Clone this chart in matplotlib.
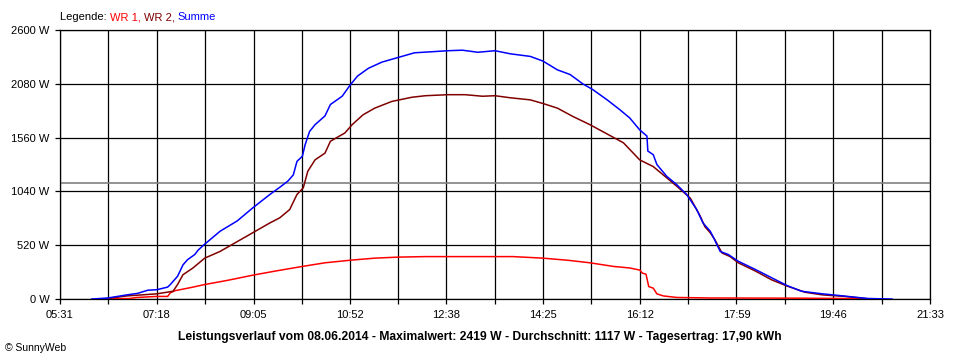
import matplotlib.pyplot as plt
from matplotlib.ticker import FixedLocator

plt.rcParams['font.family'] = ['Liberation Sans', 'DejaVu Sans']

# x axis labels (every second grid line) and y axis ticks
tick_labels = ['05:31', '07:18', '09:05', '10:52', '12:38',
               '14:25', '16:12', '17:59', '19:46', '21:33']
y_ticks = [0, 520, 1040, 1560, 2080, 2600]

# WR 1
t_wr1 = ['06:19', '06:48', '06:56', '07:18', '07:30', '07:33', '07:38', '07:58',
         '08:11', '08:36', '09:04', '09:29', '09:59', '10:24', '10:52', '11:19',
         '11:45', '12:15', '12:40', '13:32', '13:52', '14:25', '14:52', '15:17',
         '15:43', '16:01', '16:12', '16:15', '16:19', '16:22', '16:27', '16:31',
         '16:38', '16:53', '17:30', '19:11', '20:38', '20:42']
wr1 = [0, 5, 15, 25, 25, 60, 80, 115,
       140, 180, 230, 270, 315, 350, 375, 395,
       405, 410, 410, 410, 410, 395, 375, 350,
       315, 300, 280, 250, 240, 120, 105, 50,
       30, 15, 10, 8, 2, 0]

# WR 2
t_wr2 = ['06:19', '06:45', '07:18', '07:36', '07:41', '07:47', '07:58', '08:11',
         '08:28', '08:47', '09:04', '09:23', '09:34', '09:45', '09:53', '10:00',
         '10:05', '10:13', '10:24', '10:30', '10:46', '10:54', '11:06', '11:19',
         '11:38', '12:00', '12:15', '12:40', '12:59', '13:18', '13:32', '13:49',
         '14:11', '14:25', '14:41', '14:58', '15:17', '15:36', '15:54', '16:12',
         '16:27', '16:38', '16:53', '17:08', '17:19', '17:24', '17:30', '17:35',
         '17:43', '17:52', '18:01', '18:20', '18:38', '18:55', '19:15', '19:34',
         '19:59', '20:21', '20:29']
wr2 = [0, 30, 50, 75, 140, 235, 300, 395,
       460, 555, 640, 735, 785, 865, 1010, 1075,
       1235, 1345, 1410, 1525, 1605, 1685, 1780, 1845,
       1910, 1950, 1965, 1975, 1975, 1960, 1965, 1945,
       1925, 1890, 1845, 1765, 1685, 1595, 1510, 1345,
       1280, 1200, 1090, 975, 800, 700, 640, 575,
       445, 410, 350, 270, 185, 125, 65, 40,
       25, 5, 0]

# Summe
t_sum = ['06:06', '06:24', '06:45', '06:57', '07:08', '07:18', '07:30', '07:33',
         '07:41', '07:47', '07:52', '08:00', '08:04', '08:11', '08:28', '08:47',
         '09:04', '09:23', '09:34', '09:43', '09:49', '09:53', '09:59', '10:02',
         '10:07', '10:13', '10:24', '10:30', '10:43', '10:52', '11:00', '11:12',
         '11:27', '11:45', '12:03', '12:22', '12:40', '12:56', '13:13', '13:32',
         '13:49', '14:11', '14:25', '14:41', '14:55', '15:09', '15:20', '15:36',
         '15:50', '16:01', '16:12', '16:20', '16:21', '16:27', '16:31', '16:42',
         '16:53', '17:04', '17:15', '17:22', '17:30', '17:33', '17:41', '17:50',
         '18:01', '18:20', '18:38', '18:55', '19:11', '19:34', '19:46', '20:02',
         '20:24', '20:51']
summe = [0, 10, 40, 55, 85, 90, 115, 140,
         220, 330, 380, 430, 475, 530, 655, 755,
         880, 1010, 1080, 1140, 1200, 1330, 1380, 1490,
         1620, 1685, 1770, 1880, 1960, 2070, 2155, 2230,
         2290, 2335, 2380, 2390, 2400, 2405, 2385, 2400,
         2370, 2345, 2300, 2215, 2170, 2080, 2025, 1925,
         1830, 1750, 1635, 1575, 1430, 1395, 1300, 1185,
         1105, 1010, 865, 735, 655, 605, 460, 430,
         365, 285, 205, 130, 75, 50, 40, 25,
         5, 0]

durchschnitt = 1117
title = ('Leistungsverlauf vom 08.06.2014 - Maximalwert: 2419 W - '
         'Durchschnitt: 1117 W - Tagesertrag: 17,90 kWh')


def to_min(s):
    h, m = s.split(':')
    return int(h) * 60 + int(m)


fig = plt.figure(figsize=(9.6, 3.6), dpi=100)
ax = fig.add_axes([0.0625, 0.1694, 0.90625, 0.7472])

major = [to_min(s) for s in tick_labels]
minor = [(a + b) / 2 for a, b in zip(major[:-1], major[1:])]

# average line
ax.axhline(durchschnitt, color='#808080', lw=1.2, zorder=1.5)
ax.plot([to_min(s) for s in t_wr1], wr1, color='#ff0000', lw=1.1, zorder=3)
ax.plot([to_min(s) for s in t_wr2], wr2, color='#800000', lw=1.1, zorder=3)
ax.plot([to_min(s) for s in t_sum], summe, color='#0000ff', lw=1.1, zorder=3)

ax.set_xlim(major[0], major[-1])
ax.set_ylim(0, 2600)
ax.xaxis.set_major_locator(FixedLocator(major))
ax.xaxis.set_minor_locator(FixedLocator(minor))
ax.set_xticklabels(tick_labels)
ax.set_yticks(y_ticks)
ax.set_yticklabels([f'{v} W' for v in y_ticks])
ax.tick_params(which='both', direction='out', length=3.6, width=0.9,
               color='black', labelsize=8, pad=4)
ax.grid(True, which='both', color='black', lw=0.9)
ax.set_axisbelow(True)
for sp in ax.spines.values():
    sp.set_linewidth(0.9)

# legend line on top, coloured pieces placed one after the other on one baseline
renderer = fig.canvas.get_renderer()
x, y = 0.0625, 1 - 20 / 360
parts = [('Legende: ', 'black'), ('WR 1, ', '#ff0000'),
         ('WR 2, ', '#800000'), ('Summe', '#0000ff')]
for txt, col in parts:
    t = fig.text(x, y, txt, fontsize=8, color=col, va='baseline')
    bb = t.get_window_extent(renderer)
    x = fig.transFigure.inverted().transform((bb.x1, bb.y0))[0]

fig.text(0.5, 1 - 337 / 360, title, fontsize=8.7, fontweight='bold',
         ha='center', va='center')
fig.text(0.005, 1 - 348 / 360, '\u00a9 SunnyWeb', fontsize=7.5, va='center')

fig.savefig('out.png', dpi=100)
